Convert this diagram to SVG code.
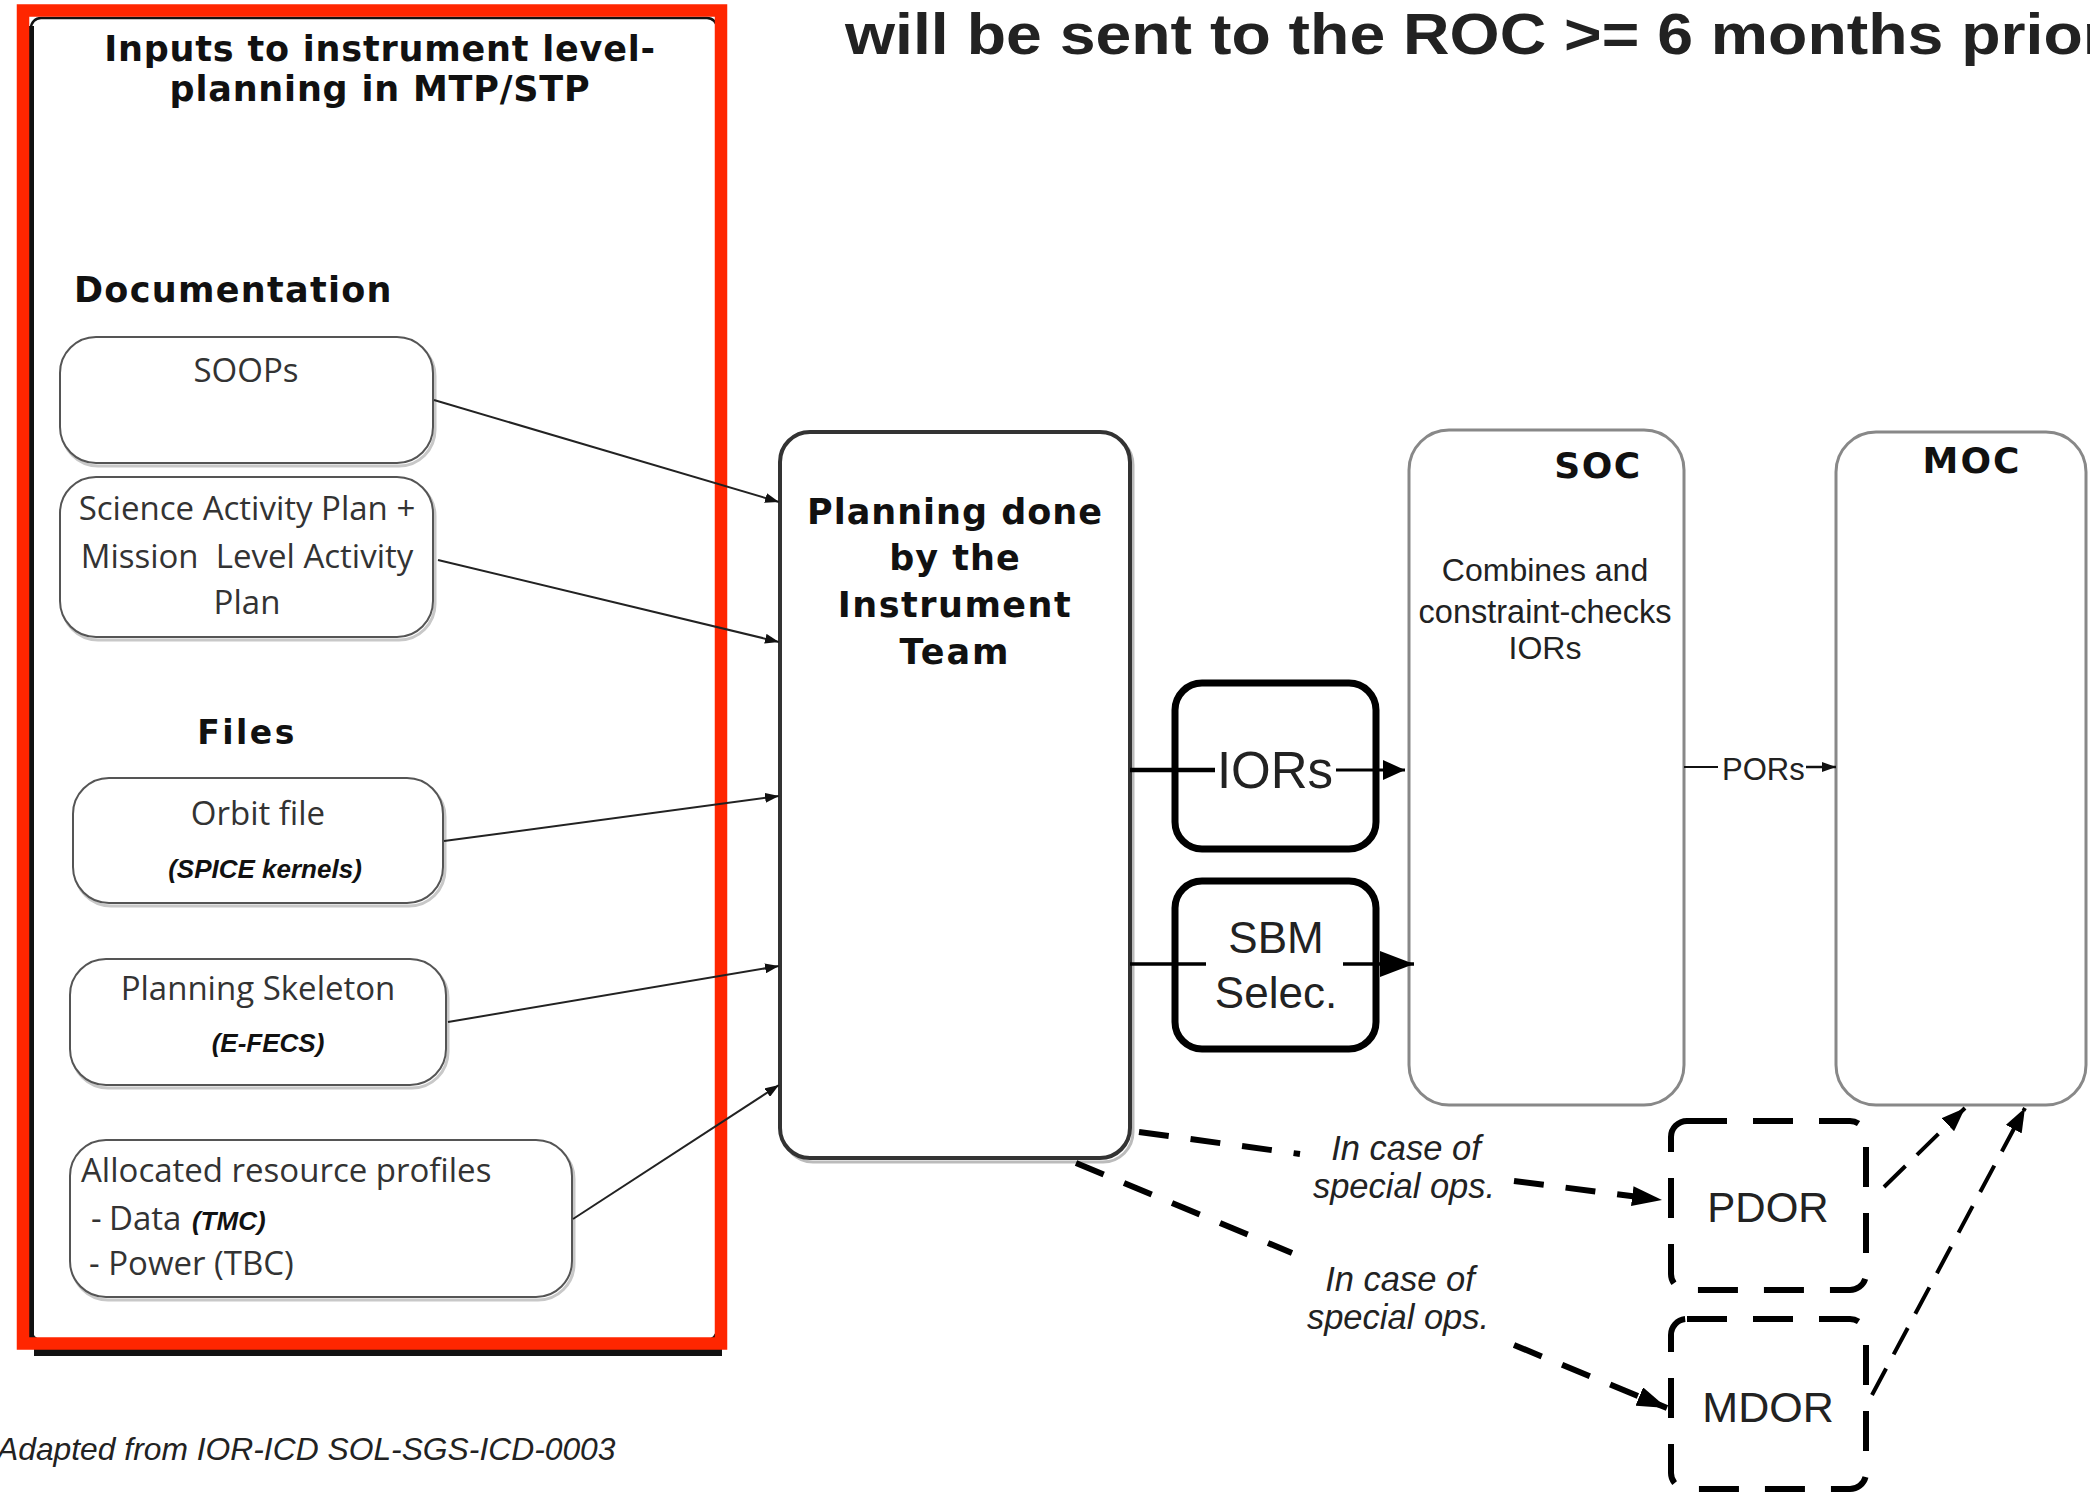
<svg xmlns="http://www.w3.org/2000/svg" width="2090" height="1495" viewBox="0 0 2090 1495">
  <style>
    .hd { font-family: "DejaVu Sans", sans-serif; font-weight: bold; fill: #111; }
    .cal { font-family: "Open Sans", sans-serif; font-size: 33px; fill: #333; }
    .bi { font-family: "Liberation Sans", Arial, sans-serif; font-weight: bold; font-style: italic; font-size: 26px; fill: #111; }
    .sans { font-family: "Liberation Sans", Arial, sans-serif; fill: #222; }
    .it { font-family: "Liberation Sans", Arial, sans-serif; font-style: italic; font-size: 34.5px; fill: #222; }
    .note { font-family: "Liberation Sans", Arial, sans-serif; font-style: italic; font-size: 31.8px; fill: #222; }
    .inbox { fill: #fff; stroke: #555; stroke-width: 2; }
    .inshadow { fill: none; stroke: #c8c8c8; stroke-width: 3; }
    .feed { fill: none; stroke: #222; stroke-width: 2; }
    .dash { fill: none; stroke: #000; stroke-width: 6; stroke-dasharray: 30 22; }
    .dash2 { fill: none; stroke: #000; stroke-width: 4; stroke-dasharray: 30 16; }
    .dbox { fill: #fff; stroke: #000; stroke-width: 6; stroke-dasharray: 40 26; }
    .center { fill: #fff; stroke: #888; stroke-width: 3; }
  </style>
  <defs>
    <marker id="arrSmall" markerUnits="userSpaceOnUse" markerWidth="14" markerHeight="10" refX="14" refY="5" orient="auto">
      <path d="M0,0 L14,5 L0,10 z" fill="#111"/>
    </marker>
    <marker id="arrMid" markerUnits="userSpaceOnUse" markerWidth="22" markerHeight="20" refX="22" refY="10" orient="auto">
      <path d="M0,0 L22,10 L0,20 z" fill="#000"/>
    </marker>
    <marker id="arrBig" markerUnits="userSpaceOnUse" markerWidth="34" markerHeight="26" refX="34" refY="13" orient="auto">
      <path d="M0,0 L34,13 L0,26 z" fill="#000"/>
    </marker>
    <marker id="arrDash" markerUnits="userSpaceOnUse" markerWidth="30" markerHeight="20" refX="30" refY="10" orient="auto">
      <path d="M0,0 L30,10 L0,20 z" fill="#000"/>
    </marker>
    <marker id="arrMoc" markerUnits="userSpaceOnUse" markerWidth="24" markerHeight="18" refX="24" refY="9" orient="auto">
      <path d="M0,0 L24,9 L0,18 z" fill="#000"/>
    </marker>
  </defs>

  <rect width="2090" height="1495" fill="#fff"/>

  <!-- heading line at the top, running off the right edge -->
  <text class="sans" transform="translate(845,54) scale(1.13,1)" font-size="57" font-weight="bold" fill="#000">will be sent to the ROC &gt;= 6 months prior</text>

  <!-- inputs panel -->
  <g id="inputs-panel">
    <rect x="34" y="1346" width="688" height="10" fill="#111"/>
    <rect x="31" y="18" width="686" height="1322" rx="10" fill="#fff" stroke="#111" stroke-width="2.5"/>
    <line x1="31.5" y1="26" x2="31.5" y2="1338" stroke="#111" stroke-width="5"/>
    <text class="hd" x="380" y="61" font-size="35" text-anchor="middle" letter-spacing="0.8">Inputs to instrument level-</text>
    <text class="hd" x="380" y="101" font-size="35" text-anchor="middle" letter-spacing="0.8">planning in MTP/STP</text>
    <text class="hd" x="74" y="302" font-size="35" letter-spacing="1.3">Documentation</text>
    <text class="hd" x="247" y="744" font-size="33" text-anchor="middle" letter-spacing="2.5">Files</text>
  </g>

  <g id="soops">
    <rect class="inshadow" x="62" y="340" width="373" height="126" rx="36"/>
    <rect class="inbox" x="60" y="337" width="373" height="126" rx="36"/>
    <text class="cal" x="246" y="382" text-anchor="middle">SOOPs</text>
  </g>

  <g id="activity-plan">
    <rect class="inshadow" x="62" y="480" width="373" height="160" rx="36"/>
    <rect class="inbox" x="60" y="477" width="373" height="160" rx="36"/>
    <text class="cal" x="247" y="520" text-anchor="middle">Science Activity Plan +</text>
    <text class="cal" x="247" y="568" text-anchor="middle">Mission&#160; Level Activity</text>
    <text class="cal" x="247" y="614" text-anchor="middle">Plan</text>
  </g>

  <g id="orbit-file">
    <rect class="inshadow" x="75" y="781" width="370" height="125" rx="36"/>
    <rect class="inbox" x="73" y="778" width="370" height="125" rx="36"/>
    <text class="cal" x="258" y="825" text-anchor="middle">Orbit file</text>
    <text class="bi" x="265" y="878" text-anchor="middle">(SPICE kernels)</text>
  </g>

  <g id="planning-skeleton">
    <rect class="inshadow" x="72" y="962" width="376" height="126" rx="36"/>
    <rect class="inbox" x="70" y="959" width="376" height="126" rx="36"/>
    <text class="cal" x="258" y="1000" text-anchor="middle">Planning Skeleton</text>
    <text class="bi" x="268" y="1052" text-anchor="middle">(E-FECS)</text>
  </g>

  <g id="resource-profiles">
    <rect class="inshadow" x="72" y="1143" width="502" height="157" rx="36"/>
    <rect class="inbox" x="70" y="1140" width="502" height="157" rx="36"/>
    <text class="cal" x="81" y="1182">Allocated resource profiles</text>
    <text class="cal" x="91" y="1230" fill="#c4c4c4">-</text>
    <text class="cal" x="109" y="1230">Data <tspan class="bi" dx="2">(TMC)</tspan></text>
    <text class="cal" x="89" y="1275">- Power (TBC)</text>
  </g>

  <!-- frame round the inputs panel -->
  <rect x="23" y="10.5" width="698" height="1333" fill="none" stroke="#ff2600" stroke-width="12.5"/>

  <g id="instrument-team">
    <rect x="783" y="435" width="350" height="727" rx="30" fill="none" stroke="#bbb" stroke-width="3"/>
    <rect x="780" y="432" width="350" height="726" rx="30" fill="#fff" stroke="#333" stroke-width="4"/>
    <text class="hd" x="955" y="524" font-size="35" letter-spacing="1" text-anchor="middle">Planning done</text>
    <text class="hd" x="955" y="570" font-size="35" letter-spacing="1" text-anchor="middle">by the</text>
    <text class="hd" x="955" y="617" font-size="35" letter-spacing="1.5" text-anchor="middle">Instrument</text>
    <text class="hd" x="955" y="664" font-size="35" letter-spacing="2" text-anchor="middle">Team</text>
  </g>

  <g id="soc">
    <rect class="center" x="1409" y="430" width="275" height="675" rx="40"/>
    <text class="hd" x="1598" y="478" font-size="36" letter-spacing="1.5" text-anchor="middle">SOC</text>
    <text class="sans" x="1545" y="581" font-size="32" text-anchor="middle" fill="#333">Combines and</text>
    <text class="sans" x="1545" y="623" font-size="32.5" text-anchor="middle" fill="#333">constraint-checks</text>
    <text class="sans" x="1545" y="659" font-size="32" text-anchor="middle" fill="#333">IORs</text>
  </g>

  <g id="moc">
    <rect class="center" x="1836" y="432" width="250" height="673" rx="40"/>
    <text class="hd" x="1972" y="473" font-size="36" letter-spacing="2" text-anchor="middle">MOC</text>
  </g>

  <g id="iors">
    <rect x="1175" y="683" width="201" height="166" rx="27" fill="#fff" stroke="#000" stroke-width="7"/>
    <text class="sans" x="1275" y="788" font-size="51" text-anchor="middle">IORs</text>
  </g>

  <g id="sbm-selec">
    <rect x="1175" y="881" width="201" height="168" rx="27" fill="#fff" stroke="#000" stroke-width="7"/>
    <text class="sans" x="1276" y="953" font-size="44" text-anchor="middle" fill="#111">SBM</text>
    <text class="sans" x="1276" y="1008" font-size="44" text-anchor="middle" fill="#111">Selec.</text>
  </g>

  <g id="pdor">
    <rect class="dbox" x="1671" y="1121" width="195" height="169" rx="16"/>
    <text class="sans" x="1768" y="1222" font-size="42" text-anchor="middle">PDOR</text>
  </g>

  <g id="mdor">
    <rect class="dbox" x="1671" y="1319" width="195" height="170" rx="16"/>
    <text class="sans" x="1768" y="1422" font-size="43" text-anchor="middle">MDOR</text>
  </g>

  <g id="connectors">
    <!-- inputs into the instrument team -->
    <path class="feed" d="M434,400 L779,502" marker-end="url(#arrSmall)"/>
    <path class="feed" d="M438,560 L779,642" marker-end="url(#arrSmall)"/>
    <path class="feed" d="M444,841 L779,796" marker-end="url(#arrSmall)"/>
    <path class="feed" d="M448,1022 L779,966" marker-end="url(#arrSmall)"/>
    <path class="feed" d="M573,1219 L779,1085" marker-end="url(#arrSmall)"/>

    <!-- IORs to SOC -->
    <path d="M1130,770 L1215,770" stroke="#000" stroke-width="4.5" fill="none"/>
    <path d="M1336,770 L1405,770" stroke="#000" stroke-width="3" fill="none" marker-end="url(#arrMid)"/>

    <!-- SBM selection to SOC -->
    <path d="M1130,964 L1206,964" stroke="#000" stroke-width="3.5" fill="none"/>
    <path d="M1343,964 L1414,964" stroke="#000" stroke-width="3.5" fill="none" marker-end="url(#arrBig)"/>

    <!-- PORs from SOC to MOC -->
    <path d="M1684,767 L1718,767" stroke="#111" stroke-width="2" fill="none"/>
    <text class="sans" x="1722" y="780" font-size="31" fill="#111">PORs</text>
    <path d="M1806,767 L1836,767" stroke="#111" stroke-width="2.5" fill="none" marker-end="url(#arrSmall)"/>

    <!-- special operations requests -->
    <path class="dash" d="M1139,1132 L1300,1154"/>
    <path class="dash" d="M1514,1181 L1662,1200" marker-end="url(#arrDash)"/>
    <text class="it" x="1406" y="1160" text-anchor="middle">In case of</text>
    <text class="it" x="1404" y="1198" text-anchor="middle">special ops.</text>

    <path class="dash" d="M1076,1163 L1292,1253"/>
    <path class="dash" d="M1514,1345 L1667,1408" marker-end="url(#arrDash)"/>
    <text class="it" x="1400" y="1291" text-anchor="middle">In case of</text>
    <text class="it" x="1398" y="1329" text-anchor="middle">special ops.</text>

    <path class="dash2" d="M1884,1187 L1965,1108" marker-end="url(#arrMoc)"/>
    <path class="dash2" d="M1872,1395 L2025,1108" marker-end="url(#arrMoc)"/>
  </g>

  <!-- source note -->
  <text class="note" x="-3" y="1460">Adapted from IOR-ICD SOL-SGS-ICD-0003</text>
</svg>
